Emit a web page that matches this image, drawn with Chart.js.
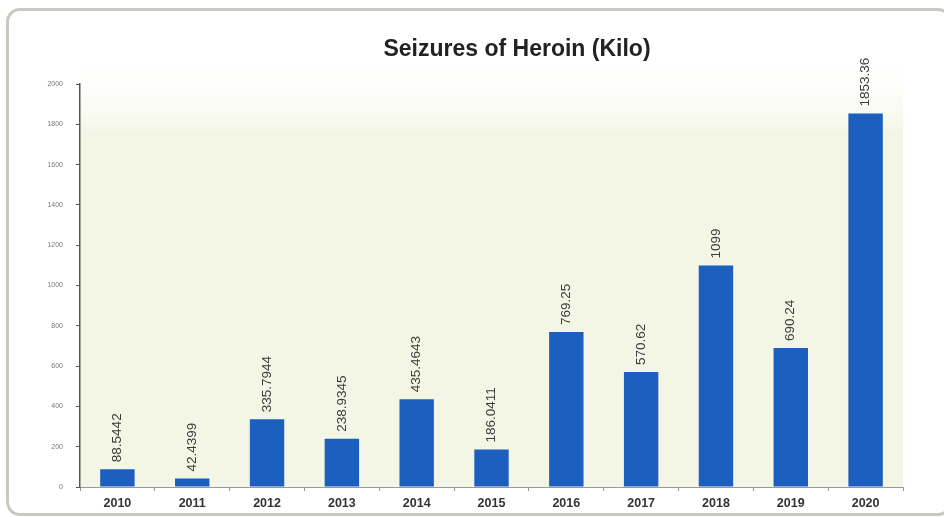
<!DOCTYPE html>
<html>
<head>
<meta charset="utf-8">
<script src="https://cdn.jsdelivr.net/npm/chart.js@4.4.1/dist/chart.umd.min.js"></script>
<style>
  html, body { margin: 0; padding: 0; background: #ffffff; }
  #wrap { position: relative; width: 944px; height: 517px; overflow: hidden; }
  #card {
    position: absolute; left: 6px; top: 8px; width: 946px; height: 508px;
    border: 3px solid #c8c9c1; border-radius: 14px; box-sizing: border-box;
  }
  #chart { position: absolute; left: 0; top: 0; }
</style>
</head>
<body>
<div id="wrap">
  <div id="card"></div>
  <canvas id="chart" width="944" height="517"></canvas>
</div>
<script>
// ---- Data ----
const years = ["2010", "2011", "2012", "2013", "2014", "2015", "2016", "2017", "2018", "2019", "2020"];
const seizures = [88.5442, 42.4399, 335.7944, 238.9345, 435.4643, 186.0411, 769.25, 570.62, 1099, 690.24, 1853.36];
const valueLabels = ["88.5442", "42.4399", "335.7944", "238.9345", "435.4643", "186.0411", "769.25", "570.62", "1099", "690.24", "1853.36"];
const chartTitle = "Seizures of Heroin (Kilo)";

// light green plot background + title
const backdrop = {
  id: "backdrop",
  beforeDraw(chart) {
    const { ctx, chartArea } = chart;
    const g = ctx.createLinearGradient(0, chartArea.top - 30, 0, chartArea.top + 50);
    g.addColorStop(0, "rgba(255,255,255,0)");
    g.addColorStop(1, "#f3f6e4");
    ctx.save();
    ctx.fillStyle = g;
    ctx.fillRect(chartArea.left, chartArea.top - 30, chartArea.right - chartArea.left, chartArea.bottom - chartArea.top + 30);
    ctx.font = "bold 23px 'Liberation Sans', Arial, sans-serif";
    ctx.fillStyle = "#222222";
    ctx.textAlign = "center";
    ctx.textBaseline = "middle";
    ctx.fillText(chartTitle, 517, 50);
    ctx.restore();
  }
};

// rotated value labels above each bar
const barValues = {
  id: "barValues",
  afterDatasetsDraw(chart) {
    const { ctx } = chart;
    const meta = chart.getDatasetMeta(0);
    ctx.save();
    ctx.font = "13.5px 'Liberation Sans', Arial, sans-serif";
    ctx.fillStyle = "#3a3a3a";
    ctx.textAlign = "left";
    ctx.textBaseline = "middle";
    meta.data.forEach((bar, i) => {
      ctx.save();
      ctx.translate(bar.x, bar.y - 7);
      ctx.rotate(-Math.PI / 2);
      ctx.fillText(valueLabels[i], 0, 0);
      ctx.restore();
    });
    ctx.restore();
  }
};

new Chart(document.getElementById("chart"), {
  type: "bar",
  data: {
    labels: years,
    datasets: [{
      data: seizures,
      backgroundColor: "#1d5fbf",
      borderWidth: 0,
      categoryPercentage: 1,
      barPercentage: 0.46
    }]
  },
  options: {
    responsive: false,
    animation: false,
    layout: { padding: { top: 84, right: 41, bottom: 0, left: 0 } },
    plugins: {
      legend: { display: false },
      title: { display: false },
      tooltip: { enabled: false }
    },
    scales: {
      x: {
        afterFit(scale) { scale.height = 30; },
        grid: { display: true, drawOnChartArea: false, tickLength: 4, color: "#9a9a9a", offset: true },
        border: { display: true, color: "#9a9a9a", width: 1 },
        ticks: {
          color: "#333333",
          padding: 5,
          font: { family: "'Liberation Sans', Arial, sans-serif", size: 12.5, weight: "bold" }
        }
      },
      y: {
        min: 0,
        max: 2000,
        afterFit(scale) { scale.width = 80; },
        grid: { display: true, drawOnChartArea: false, tickLength: 4, color: "#555555" },
        border: { display: true, color: "#555555", width: 1.5 },
        ticks: {
          stepSize: 200,
          color: "#777777",
          padding: 13,
          font: { family: "'Liberation Sans', Arial, sans-serif", size: 7 },
          callback: (v) => String(v)
        }
      }
    }
  },
  plugins: [backdrop, barValues]
});
</script>
</body>
</html>
